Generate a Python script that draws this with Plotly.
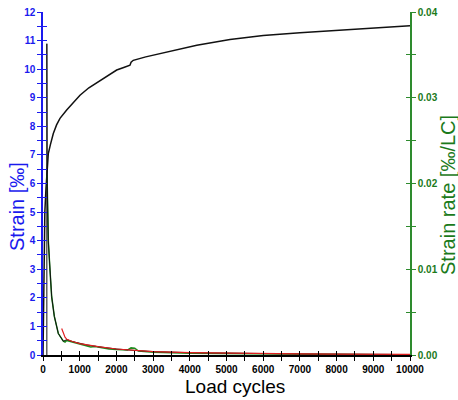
import plotly.graph_objects as go

# Strain curve (left axis, ‰)
strain_cycles = [0, 20, 50, 80, 100, 145, 200, 281, 370, 463, 645, 800, 1008, 1250, 1553, 1800,
                 2008, 2200, 2370, 2400, 2460, 2800, 3280, 4190, 5095, 6000, 7000, 8000, 9000, 10000]
strain_values = [0, 3.0, 5.0, 5.8, 6.3, 7.05, 7.35, 7.75, 8.05, 8.28, 8.57, 8.8, 9.09, 9.35, 9.6, 9.8,
                 9.97, 10.06, 10.14, 10.24, 10.31, 10.43, 10.57, 10.84, 11.04, 11.18, 11.27, 11.36, 11.44, 11.52]

# Strain rate, measured (green, right axis ‰/LC)
rate_green_cycles = [110, 125, 145, 190, 236, 309, 418, 554, 600, 645, 800, 1000, 1145, 1300, 1417,
                     1550, 1800, 2000, 2300, 2400, 2500, 2600, 3000, 4000, 5000, 6000, 7000, 8000,
                     9000, 9500, 10000]
rate_green_values = [0.0210, 0.0167, 0.0133, 0.0099, 0.0068, 0.0045, 0.0025, 0.0016, 0.0015, 0.0017,
                     0.0015, 0.00127, 0.0011, 0.00093, 0.0010, 0.00087, 0.0007, 0.00063, 0.00057,
                     0.00083, 0.0008, 0.00047, 0.00033, 0.0002, 0.00017, 0.00013, 0.0001, 0.00008,
                     0.00007, 0.0, 0.0]

# Strain rate, raw (black, right axis)
rate_black_cycles = [105, 105, 115, 145, 190, 236, 309, 418, 554, 650, 800, 1000, 1200, 1500, 2000,
                     2500, 3000, 4000, 5000, 6000, 7000, 8000, 9000, 9500]
rate_black_values = [0.0, 0.0363, 0.020, 0.0133, 0.0099, 0.0068, 0.0045, 0.0025, 0.0016, 0.0018,
                     0.00157, 0.00133, 0.00117, 0.00097, 0.0007, 0.00053, 0.0004, 0.00027, 0.0002,
                     0.00015, 0.00012, 0.0001, 0.00008, 0.00007]

# Strain rate, fit (red, right axis)
rate_red_cycles = [509, 550, 600, 650, 800, 1000, 1200, 1500, 2000, 2500, 3000, 4000, 5000, 6000,
                   7000, 8000, 9000, 10000]
rate_red_values = [0.0031, 0.0025, 0.00207, 0.00183, 0.00157, 0.00133, 0.00117, 0.00097, 0.0007,
                   0.00053, 0.0004, 0.00027, 0.0002, 0.00015, 0.00012, 0.0001, 0.00008, 0.00007]

x_ticks = list(range(0, 10001, 1000))
left_ticks = list(range(0, 13))
right_ticks = [0.00, 0.01, 0.02, 0.03, 0.04]

BLUE = "#1a1aee"
GREEN = "#2e8b2e"
GREEN_TXT = "#1b7a1b"

fig = go.Figure()
fig.add_trace(go.Scatter(x=rate_green_cycles, y=rate_green_values, yaxis="y2", mode="lines",
                         line=dict(color="#1e8c1e", width=1.5), showlegend=False))
fig.add_trace(go.Scatter(x=rate_black_cycles, y=rate_black_values, yaxis="y2", mode="lines",
                         line=dict(color="#111111", width=1), showlegend=False))
fig.add_trace(go.Scatter(x=rate_red_cycles, y=rate_red_values, yaxis="y2", mode="lines",
                         line=dict(color="#e02020", width=1.2), showlegend=False))
fig.add_trace(go.Scatter(x=strain_cycles, y=strain_values, mode="lines",
                         line=dict(color="#111111", width=1.5), showlegend=False))

tf = dict(family="Liberation Sans Narrow, Arial Narrow, Liberation Sans", size=10, weight="bold")

fig.update_layout(
    width=458, height=400,
    margin=dict(l=43, r=48, t=12, b=45, autoexpand=False),
    paper_bgcolor="white", plot_bgcolor="white",
    xaxis=dict(range=[0, 10000], tickvals=x_ticks, ticktext=[str(v) for v in x_ticks],
               showgrid=False, zeroline=False, showline=True, linecolor="black", linewidth=1.5,
               ticks="outside", ticklen=4, tickcolor="black", automargin=False,
               minor=dict(dtick=500, ticks="outside", ticklen=4, tickcolor="black"),
               tickfont=dict(color="black", **tf)),
    xaxis2=dict(range=[0, 10000], overlaying="x", anchor="y", side="bottom", tickvals=x_ticks,
                showticklabels=False, showgrid=False, zeroline=False, showline=False,
                ticks="inside", ticklen=4, tickcolor="black", automargin=False,
                minor=dict(dtick=500, ticks="inside", ticklen=4, tickcolor="black")),
    yaxis=dict(range=[0, 12], tickvals=left_ticks, showgrid=False, zeroline=False,
               showline=True, linecolor=BLUE, linewidth=1.5,
               ticks="outside", ticklen=4, tickcolor=BLUE, automargin=False,
               minor=dict(dtick=0.5, ticks="outside", ticklen=4, tickcolor=BLUE),
               tickfont=dict(color=BLUE, **tf)),
    yaxis3=dict(range=[0, 12], overlaying="y", side="left", anchor="x", tickvals=left_ticks,
                showticklabels=False, showgrid=False, zeroline=False, showline=False,
                ticks="inside", ticklen=4, tickcolor=BLUE, automargin=False,
                minor=dict(dtick=0.5, ticks="inside", ticklen=4, tickcolor=BLUE)),
    yaxis2=dict(range=[0, 0.04], tickvals=right_ticks, tickformat=".2f", overlaying="y", side="right",
                showgrid=False, zeroline=False, showline=True, linecolor=GREEN, linewidth=1.5,
                ticks="outside", ticklen=4, tickcolor=GREEN, automargin=False,
                minor=dict(dtick=0.005, ticks="outside", ticklen=4, tickcolor=GREEN),
                tickfont=dict(color=GREEN_TXT, **tf)),
    yaxis4=dict(range=[0, 0.04], overlaying="y", side="right", anchor="x", tickvals=right_ticks,
                showticklabels=False, showgrid=False, zeroline=False, showline=False,
                ticks="inside", ticklen=4, tickcolor=GREEN, automargin=False,
                minor=dict(dtick=0.005, ticks="inside", ticklen=4, tickcolor=GREEN)),
    annotations=[
        dict(text="Strain [‰]", xref="paper", yref="paper", x=-0.0708, y=0.4315, showarrow=False,
             textangle=-90, xanchor="center", yanchor="middle",
             font=dict(family="Liberation Sans", size=20, color=BLUE)),
        dict(text="Strain rate [‰/LC]", xref="paper", yref="paper", x=1.1035, y=0.4665, showarrow=False,
             textangle=-90, xanchor="center", yanchor="middle",
             font=dict(family="Liberation Sans", size=20, color=GREEN_TXT)),
        dict(text="Load cycles", xref="paper", yref="paper", x=0.523, y=-0.092, showarrow=False,
             xanchor="center", yanchor="middle",
             font=dict(family="Liberation Sans", size=19, color="black")),
    ],
)
# dummy traces to activate overlay axes
fig.add_trace(go.Scatter(x=[None], y=[None], xaxis="x2", yaxis="y3", showlegend=False, hoverinfo="skip"))
fig.add_trace(go.Scatter(x=[None], y=[None], yaxis="y4", showlegend=False, hoverinfo="skip"))

fig.write_html("out.html", config={"displayModeBar": False},
               post_script="document.body.style.margin='0';document.body.style.overflow='hidden';")
